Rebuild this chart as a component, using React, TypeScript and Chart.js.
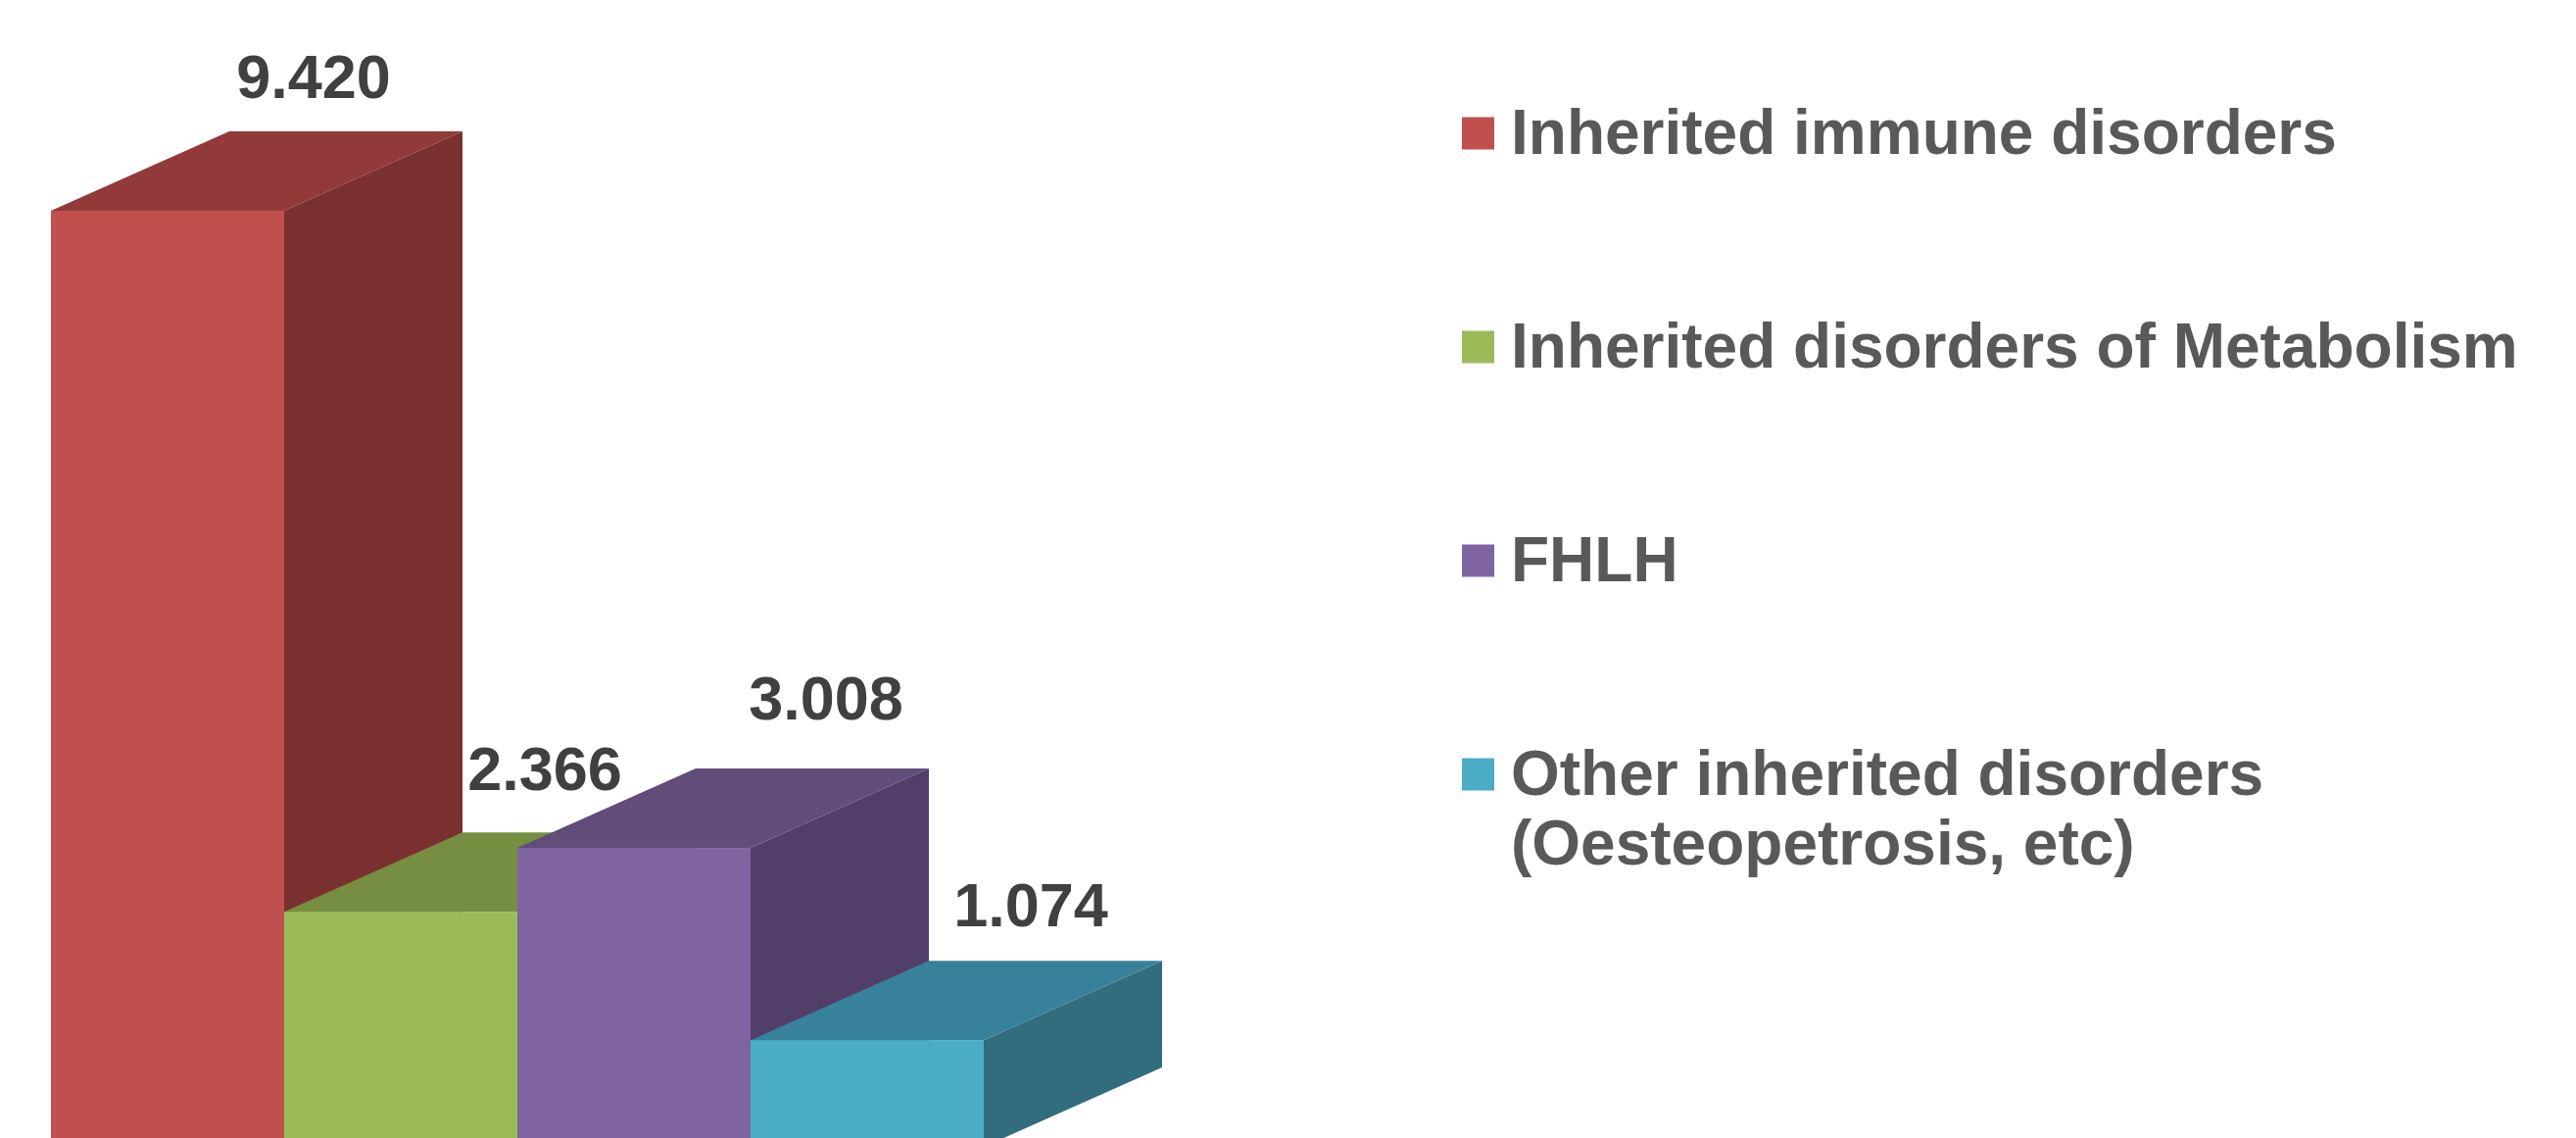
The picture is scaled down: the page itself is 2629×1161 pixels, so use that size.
import React, { useEffect, useRef } from "react";
import { Chart, registerables } from "chart.js";

Chart.register(...registerables);

// ---- data ----
const categoryLines: string[][] = [
  ["Inherited immune disorders"],
  ["Inherited disorders of Metabolism"],
  ["FHLH"],
  ["Other inherited disorders", "(Oesteopetrosis, etc)"],
];
const categories = categoryLines.map((l) => l.join(" "));
const values = [9.42, 2.366, 3.008, 1.074];

// ---- styles ----
const frontColors = ["#C0504D", "#9BBB59", "#8064A2", "#4BACC6"];
const topColors = ["#913A39", "#768E42", "#614C7A", "#37829A"];
const sideColors = ["#7B3030", "#627637", "#513F69", "#316D7D"];
const DEPTH_X = 182;
const DEPTH_Y = 81;
const labelNudge = [
  { dx: -33, gap: 34 },
  { dx: -35, gap: 43 },
  { dx: 14, gap: 50 },
  { dx: -15, gap: 35 },
];
const W = 2629;
const H = 1161;
const FONT = "'Liberation Sans', Arial, Helvetica, sans-serif";

const bar3d = {
  id: "bar3d",
  afterDatasetsDraw(chart: any) {
    const ctx: CanvasRenderingContext2D = chart.ctx;
    const meta = chart.getDatasetMeta(0);
    const yScale = chart.scales.y;
    const base = yScale.getPixelForValue(0);
    ctx.save();
    ctx.fillStyle = "#FFFFFF";
    ctx.fillRect(0, 0, 1400, H);
    meta.data.forEach((el: any, i: number) => {
      const { x, y, width } = el.getProps(["x", "y", "width"], true);
      const l = x - width / 2;
      const r = x + width / 2;
      // side face
      ctx.fillStyle = sideColors[i];
      ctx.beginPath();
      ctx.moveTo(r, y);
      ctx.lineTo(r + DEPTH_X, y - DEPTH_Y);
      ctx.lineTo(r + DEPTH_X, base - DEPTH_Y);
      ctx.lineTo(r, base);
      ctx.closePath();
      ctx.fill();
      // top face
      ctx.fillStyle = topColors[i];
      ctx.beginPath();
      ctx.moveTo(l, y);
      ctx.lineTo(l + DEPTH_X, y - DEPTH_Y);
      ctx.lineTo(r + DEPTH_X, y - DEPTH_Y);
      ctx.lineTo(r, y);
      ctx.closePath();
      ctx.fill();
      // front face
      ctx.fillStyle = frontColors[i];
      ctx.fillRect(l, y, width, base - y);
    });
    // value labels
    ctx.font = `bold 63px ${FONT}`;
    ctx.fillStyle = "#404040";
    ctx.textAlign = "center";
    ctx.textBaseline = "alphabetic";
    meta.data.forEach((el: any, i: number) => {
      const { x, y } = el.getProps(["x", "y"], true);
      const v = chart.data.datasets[0].data[i] as number;
      ctx.fillText(v.toFixed(3), x + DEPTH_X + labelNudge[i].dx, y - DEPTH_Y - labelNudge[i].gap);
    });
    // legend
    const lx = 1492;
    const box = 33;
    const tx = 1542;
    const firstCenter = 136;
    const step = 218;
    const lineH = 71;
    ctx.font = `bold 64px ${FONT}`;
    ctx.textAlign = "left";
    categoryLines.forEach((lines, i) => {
      const cy = firstCenter + i * step;
      ctx.fillStyle = frontColors[i];
      ctx.fillRect(lx, cy - box / 2, box, box);
      ctx.fillStyle = "#595959";
      lines.forEach((t, j) => {
        ctx.fillText(t, tx, cy + 21 + j * lineH);
      });
    });
    ctx.restore();
  },
};

export default function App() {
  const ref = useRef<HTMLCanvasElement | null>(null);
  useEffect(() => {
    if (!ref.current) return;
    const chart = new Chart(ref.current, {
      type: "bar",
      data: {
        labels: categories,
        datasets: [
          {
            label: "Patients",
            data: values,
            backgroundColor: frontColors,
            barPercentage: 1,
            categoryPercentage: 1,
            borderWidth: 0,
          },
        ],
      },
      options: {
        animation: false,
        responsive: false,
        devicePixelRatio: 1,
        layout: { padding: { left: 52, right: W - 1004, top: 0, bottom: 0 } },
        plugins: { legend: { display: false }, tooltip: { enabled: false }, title: { display: false } },
        scales: {
          x: { display: false, offset: true, grid: { display: false } },
          y: { display: false, min: 0.089, max: 11.54, grid: { display: false } },
        },
      },
      plugins: [bar3d],
    });
    return () => chart.destroy();
  }, []);
  return (
    <div style={{ position: "fixed", left: 0, top: 0, width: W, height: H, background: "#fff" }}>
      <canvas ref={ref} width={W} height={H} style={{ width: W, height: H, display: "block" }} />
    </div>
  );
}
